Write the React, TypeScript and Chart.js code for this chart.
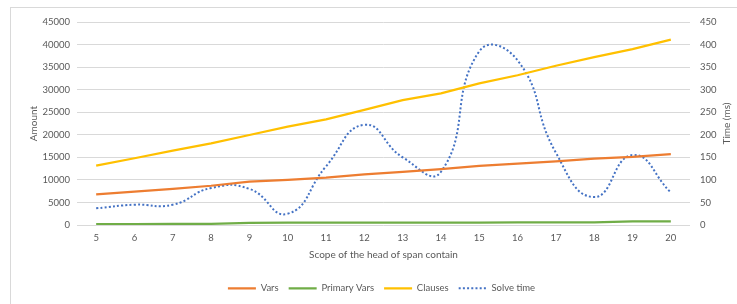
import React, { useEffect, useRef } from 'react';
import { Chart, registerables } from 'chart.js';

Chart.register(...registerables);

const categories = ['5', '6', '7', '8', '9', '10', '11', '12', '13', '14', '15', '16', '17', '18', '19', '20'];
const varsData = [6800, 7400, 8000, 8700, 9600, 10000, 10500, 11200, 11800, 12400, 13100, 13600, 14100, 14700, 15100, 15700];
const primaryVarsData = [200, 220, 240, 260, 480, 500, 510, 520, 530, 540, 550, 560, 570, 580, 800, 820];
const clausesData = [13150, 14800, 16500, 18100, 19950, 21800, 23400, 25500, 27700, 29200, 31400, 33200, 35300, 37200, 39000, 41100];
const solveTimeData = [37, 45, 45, 82, 80, 25, 130, 222, 150, 118, 385, 365, 160, 62, 155, 72];

const FONT = 'Lato';
const TEXT = '#595959';
const GRID = '#d9d9d9';

export default function App() {
  const ref = useRef<HTMLCanvasElement>(null);

  useEffect(() => {
    if (!ref.current) return;

    const framePlugin = {
      id: 'frame',
      beforeDraw(chart: any) {
        const ctx = chart.ctx;
        ctx.save();
        ctx.fillStyle = '#ffffff';
        ctx.fillRect(0, 0, chart.width, chart.height);
        ctx.strokeStyle = GRID;
        ctx.lineWidth = 1;
        ctx.strokeRect(10.5, 7.5, 900, 400);
        ctx.restore();
      },
    };

    const rightTitlePlugin = {
      id: 'rightTitle',
      afterDraw(chart: any) {
        const ctx = chart.ctx;
        const a = chart.chartArea;
        ctx.save();
        ctx.translate(726.5, (a.top + a.bottom) / 2);
        ctx.rotate(-Math.PI / 2);
        ctx.font = `10px ${FONT}`;
        ctx.fillStyle = TEXT;
        ctx.textAlign = 'center';
        ctx.textBaseline = 'middle';
        ctx.fillText('Time (ms)', 0, 0);
        ctx.restore();
      },
    };

    const plain = (v: any) => String(v);

    const chart = new Chart(ref.current, {
      type: 'line',
      data: {
        labels: categories,
        datasets: [
          {
            label: 'Vars',
            data: varsData,
            borderColor: '#ED7D31',
            backgroundColor: '#ED7D31',
            borderWidth: 2.25,
            pointRadius: 0,
            tension: 0,
            yAxisID: 'y',
          },
          {
            label: 'Primary Vars',
            data: primaryVarsData,
            borderColor: '#70AD47',
            backgroundColor: '#70AD47',
            borderWidth: 2.25,
            pointRadius: 0,
            tension: 0,
            yAxisID: 'y',
          },
          {
            label: 'Clauses',
            data: clausesData,
            borderColor: '#FFC000',
            backgroundColor: '#FFC000',
            borderWidth: 2.25,
            pointRadius: 0,
            tension: 0,
            yAxisID: 'y',
          },
          {
            label: 'Solve time',
            data: solveTimeData,
            borderColor: '#4472C4',
            backgroundColor: '#4472C4',
            borderWidth: 2,
            borderDash: [2, 2.2],
            pointRadius: 0,
            tension: 0.5,
            yAxisID: 'y1',
          },
        ],
      },
      options: {
        responsive: false,
        animation: false,
        layout: { padding: { left: 26, right: 0, top: 22, bottom: 1 } },
        plugins: {
          tooltip: { enabled: false },
          legend: {
            position: 'bottom',
            labels: {
              usePointStyle: true,
              pointStyle: 'line',
              pointStyleWidth: 28,
              padding: 10,
              color: TEXT,
              font: { family: FONT, size: 9.5 },
              generateLabels(c: any) {
                const items = Chart.defaults.plugins.legend.labels.generateLabels(c);
                items.forEach((it: any) => {
                  const ds = c.data.datasets[it.datasetIndex];
                  it.lineDash = ds.borderDash || [];
                  it.lineWidth = ds.borderWidth;
                  it.strokeStyle = ds.borderColor;
                });
                return items;
              },
            },
          },
        },
        scales: {
          x: {
            type: 'category',
            offset: true,
            grid: { display: false, drawTicks: false },
            border: { display: false },
            ticks: { color: TEXT, font: { family: FONT, size: 9.5 }, padding: 7, maxRotation: 0, autoSkip: false },
            title: {
              display: true,
              text: 'Scope of the head of span contain',
              color: TEXT,
              font: { family: FONT, size: 10 },
              padding: { top: 0, bottom: 12.5 },
            },
            afterFit(s: any) {
              s.height = 48.5;
            },
          },
          y: {
            position: 'left',
            min: 0,
            max: 45000,
            ticks: { stepSize: 5000, color: TEXT, font: { family: FONT, size: 9.5 }, padding: 7, callback: plain },
            grid: { color: GRID, lineWidth: 1, drawTicks: false },
            border: { display: false },
            title: {
              display: true,
              text: 'Amount',
              color: TEXT,
              font: { family: FONT, size: 10 },
              padding: { top: 2, bottom: 0 },
            },
            afterFit(s: any) {
              s.width = 51;
            },
          },
          y1: {
            position: 'right',
            min: 0,
            max: 450,
            ticks: { stepSize: 50, color: TEXT, font: { family: FONT, size: 9.5 }, padding: 10, callback: plain },
            grid: { display: false, drawTicks: false },
            border: { display: false },
            afterFit(s: any) {
              s.width = 47;
            },
          },
        },
      },
      plugins: [framePlugin, rightTitlePlugin],
    });

    return () => chart.destroy();
  }, []);

  return (
    <div style={{ position: 'fixed', left: 0, top: 0, width: 737, height: 304 }}>
      <canvas ref={ref} width={737} height={304} style={{ display: 'block' }} />
    </div>
  );
}
